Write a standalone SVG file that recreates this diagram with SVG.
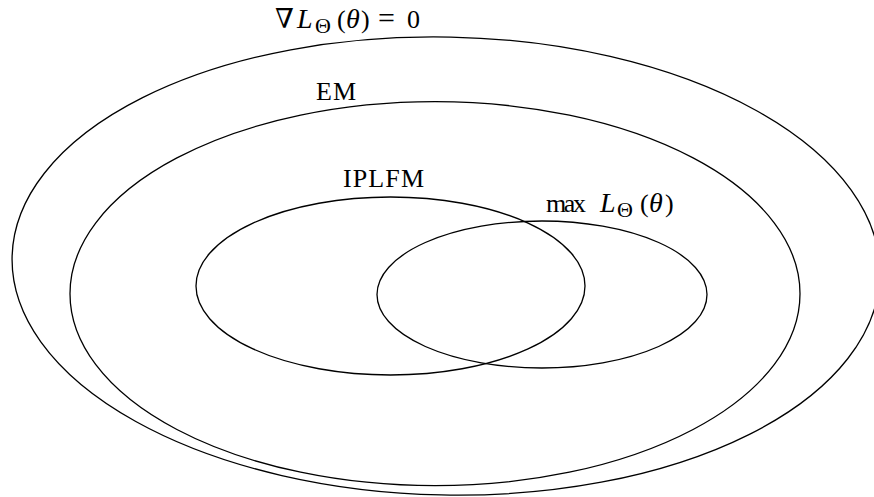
<svg xmlns="http://www.w3.org/2000/svg" width="874" height="497" viewBox="0 0 874 497">
<style>
.e{fill:none;stroke:#000;stroke-width:1.3}
.t{font-family:"Liberation Serif","DejaVu Serif",serif;font-size:26px;fill:#000}
.i{font-style:italic;font-size:28px}
.s{font-size:22px}
</style>
<rect width="874" height="497" fill="#fff"/>
<g id="connectors"></g>
<g id="grad">
<ellipse class="e" cx="446" cy="266" rx="434" ry="229" transform="rotate(1.2 446 266)"/>
<text class="t" y="28"><tspan x="275" font-size="27">∇</tspan><tspan class="i" x="297">L</tspan><tspan class="s" x="315" dy="5">Θ</tspan><tspan x="337" dy="-5">(</tspan><tspan class="i" x="346">θ</tspan><tspan x="361">)</tspan><tspan x="378" font-size="30">=</tspan><tspan x="407">0</tspan></text>
</g>
<g id="em">
<ellipse class="e" cx="435" cy="293.7" rx="365" ry="192"/>
<text class="t" x="316" y="100" font-size="27" textLength="40">EM</text>
</g>
<g id="iplfm">
<ellipse class="e" cx="390.5" cy="286" rx="194.5" ry="89"/>
<text class="t" x="343" y="187" font-size="27" textLength="81">IPLFM</text>
</g>
<g id="max">
<ellipse class="e" cx="542" cy="294.5" rx="165" ry="73.5"/>
<text class="t" y="212"><tspan x="546" textLength="40">max</tspan><tspan class="i" x="600">L</tspan><tspan class="s" x="617" dy="5">Θ</tspan><tspan x="640" dy="-5">(</tspan><tspan class="i" x="649">θ</tspan><tspan x="665">)</tspan></text>
</g>
</svg>
